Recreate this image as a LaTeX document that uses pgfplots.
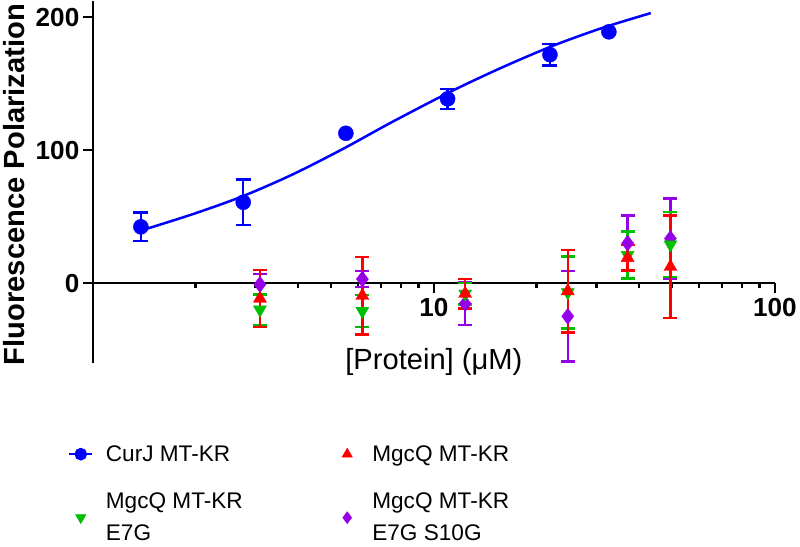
\documentclass[border=0pt]{standalone}
\usepackage{fontspec}
\setmainfont{Liberation Sans}
\usepackage{pgfplots}
\pgfplotsset{compat=1.18}
\definecolor{cblue}{RGB}{0,0,255}
\definecolor{cred}{RGB}{255,0,0}
\definecolor{cgreen}{RGB}{0,190,0}
\definecolor{cpurple}{RGB}{150,0,230}
\pgfplotsset{
  bluelegend/.style={legend image code/.code={\path[draw=none,fill=none] (-12pt,0pt)--(23pt,0pt);\draw[mark repeat=2,mark phase=2,##1] plot coordinates {(-11.5pt,0pt)(0pt,0pt)(11.5pt,0pt)};}},
  marklegend/.style={legend image code/.code={\path[draw=none,fill=none] (-12pt,0pt)--(23pt,0pt);\draw[##1] plot coordinates {(0pt,0pt)};}}
}
\begin{document}
\begin{tikzpicture}
\begin{axis}[
  scale only axis, width=679pt, height=360pt,
  xmode=log, xmin=1, xmax=100, ymin=-60, ymax=212,
  axis x line=middle, axis y line=left,
  axis line style={line width=2.5pt,-},
  xtick={10,100}, xticklabels={10,100},
  minor xtick={2,3,4,5,6,7,8,9,20,30,40,50,60,70,80,90},
  ytick={0,100,200}, yticklabels={0,100,200},
  tick style={line width=2.5pt,black},
  major tick length=10pt, minor tick length=5pt,
  tick align=outside,
  ticklabel style={font=\fontsize{26}{30}\selectfont\bfseries},
  xticklabel style={yshift=-2pt},
  every axis y label/.style={at={(axis description cs:-0.1156,0.493)},rotate=90,anchor=center,font=\fontsize{29}{34}\selectfont\bfseries},
  every axis x label/.style={at={(axis description cs:0.5,0)},anchor=center,yshift=1pt,font=\fontsize{29}{34}\selectfont},
  ylabel={Fluorescence Polarization},
  xlabel={[Protein] (μM)},
  legend style={at={(axis description cs:-0.0412,-0.217)},anchor=north west,draw=none,fill=none,
    font=\fontsize{22.5}{32}\selectfont,row sep=26pt,cells={anchor=west,align=left},
    /tikz/every even column/.append style={column sep=90pt}},
  legend columns=2,
]
\addlegendimage{cblue,line width=2.5pt,mark=*,mark size=5pt,bluelegend}
\addlegendentry{CurJ MT-KR}
\addlegendimage{only marks,cred,mark=triangle*,mark size=6pt,marklegend}
\addlegendentry{MgcQ MT-KR}
\addlegendimage{only marks,cgreen,mark=triangle*,mark size=6pt,mark options={rotate=180},marklegend}
\addlegendentry{MgcQ MT-KR\\E7G}
\addlegendimage{only marks,cpurple,mark=diamond*,mark size=6pt,marklegend}
\addlegendentry{MgcQ MT-KR\\E7G S10G}

% purple
\addplot[forget plot,only marks,cpurple,mark=diamond*,mark size=8pt,
  error bars/.cd,y dir=both,y explicit,
  error bar style={line width=2.5pt,cpurple},
  error mark options={rotate=90,mark size=7pt,line width=2.5pt,cpurple}]
  table[x=x,y=y,y error=e]{
x y e
3.09 -1 8
6.17 3 6
12.35 -15.5 16
24.7 -25 34
37 30 21
49.4 33.5 30
};
% green
\addplot[forget plot,only marks,cgreen,mark=triangle*,mark size=7.5pt,mark options={rotate=180},
  error bars/.cd,y dir=both,y explicit,
  error bar style={line width=2.5pt,cgreen},
  error mark options={rotate=90,mark size=7pt,line width=2.5pt,cgreen}]
  table[x=x,y=y,y error=e]{
x y e
3.09 -20 11.5
6.17 -21 12
12.35 -8 8
24.7 -7 27
37 21 17.7
49.4 29 24.5
};
% red
\addplot[forget plot,only marks,cred,mark=triangle*,mark size=7.5pt,
  error bars/.cd,y dir=both,y explicit,
  error bar style={line width=2.5pt,cred},
  error mark options={rotate=90,mark size=7pt,line width=2.5pt,cred}]
  table[x=x,y=y,y error=e]{
x y e
3.09 -11.6 21.6
6.17 -9.5 29
12.35 -8 11
24.7 -6 31
37 19 9.5
49.4 12.3 38.7
};
% blue fit curve
\addplot[forget plot,cblue,line width=2.5pt,smooth,no marks] coordinates {
(1.383,39.5)(1.961,51.8)(2.748,65.3)(3.851,81.7)(5.40,100.8)(7.56,121.3)
(11.34,144.7)(15.91,162.4)(22.29,178.4)(31.23,192.0)(43.28,203.1)};
% blue points
\addplot[forget plot,only marks,cblue,mark=*,mark size=7.5pt,
  error bars/.cd,y dir=both,y explicit,
  error bar style={line width=2.5pt,cblue},
  error mark options={rotate=90,mark size=7.5pt,line width=2.5pt,cblue}]
  table[x=x,y=y,y error=e]{
x y e
1.383 42.3 10.8
2.76 60.8 17.2
10.97 138.6 7.5
21.9 171.8 8
};
\addplot[forget plot,only marks,cblue,mark=*,mark size=7.5pt]
  coordinates {(5.52,112.7)(32.6,189)};
\end{axis}
\end{tikzpicture}
\end{document}
